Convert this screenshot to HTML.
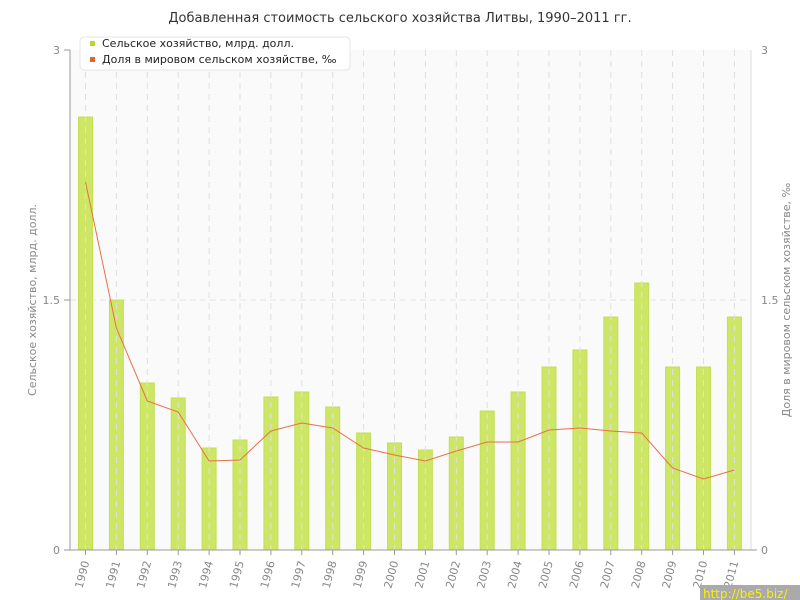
<!DOCTYPE html>
<html><head><meta charset="utf-8"><style>
body{margin:0;background:#fff;}
svg{display:block;font-family:"DejaVu Sans","Liberation Sans",sans-serif;}
</style></head><body>
<svg width="800" height="600" xmlns="http://www.w3.org/2000/svg">
<rect width="800" height="600" fill="#fff"/>
<text x="400" y="22" text-anchor="middle" font-size="13" fill="#333">Добавленная стоимость сельского хозяйства Литвы, 1990–2011 гг.</text>
<rect x="70" y="50" width="681" height="500" fill="#fafafa"/>
<line x1="751" y1="50" x2="751" y2="550" stroke="#ddd"/>
<line x1="70" y1="300" x2="751" y2="300" stroke="#e4e4e4" stroke-dasharray="6,4"/>
<g id="bars" fill="#cde666" stroke="#c4df55"></g>
<g id="grid" stroke="#e0e0e0" stroke-dasharray="6,5"></g>
<polyline id="line" fill="none" stroke="#e8704a" stroke-width="1"/>
<line x1="70" y1="50" x2="70" y2="550" stroke="#999"/>
<line x1="64" y1="550" x2="757" y2="550" stroke="#999"/>
<line x1="64" y1="50" x2="70" y2="50" stroke="#999"/>
<line x1="64" y1="300" x2="70" y2="300" stroke="#999"/>
<g font-size="11" fill="#888">
<text x="60" y="54" text-anchor="end">3</text>
<text x="60" y="304" text-anchor="end">1.5</text>
<text x="60" y="554" text-anchor="end">0</text>
<text x="761" y="54">3</text>
<text x="761" y="304">1.5</text>
<text x="761" y="554">0</text>
</g>
<g id="xl" font-size="11" fill="#888"></g>
<text transform="translate(36,300) rotate(-90)" text-anchor="middle" font-size="11" fill="#888">Сельское хозяйство, млрд. долл.</text>
<text transform="translate(790,300) rotate(-90)" text-anchor="middle" font-size="11" fill="#888">Доля в мировом сельском хозяйстве, ‰</text>
<rect x="80" y="37" width="270" height="33" rx="4" fill="#fff" stroke="#e4e4e4"/>
<rect x="90" y="41" width="5" height="5" fill="#b5d92d"/>
<rect x="90" y="57" width="5" height="5" fill="#e8632c"/>
<text x="102" y="47" font-size="11" fill="#222">Сельское хозяйство, млрд. долл.</text>
<text x="102" y="63" font-size="11" fill="#222">Доля в мировом сельском хозяйстве, ‰</text>
<rect x="700" y="585" width="100" height="15" fill="#aaa"/>
<text x="703" y="598" font-size="12" fill="#ffee00">http://be5.biz/</text>
<script>
var tops=[117,300,383,398,448,440,397,392,407,433,443,450,437,411,392,367,350,317,283,367,367,317];
var ly=[182,328,401,412,461,460,431,423,428,448,455,461,451,442,442,430,428,431,433,468,479,470];
var ns="http://www.w3.org/2000/svg",b=document.getElementById('bars'),g=document.getElementById('grid'),xl=document.getElementById('xl'),pts=[];
for(var i=0;i<22;i++){var x=85.5+i*30.9;
var r=document.createElementNS(ns,'rect');r.setAttribute('x',x-7);r.setAttribute('y',tops[i]);r.setAttribute('width',14);r.setAttribute('height',550-tops[i]);b.appendChild(r);
var l=document.createElementNS(ns,'line');l.setAttribute('x1',x);l.setAttribute('x2',x);l.setAttribute('y1',50);l.setAttribute('y2',550);g.appendChild(l);
var t=document.createElementNS(ns,'line');t.setAttribute('x1',x);t.setAttribute('x2',x);t.setAttribute('y1',550);t.setAttribute('y2',555);t.setAttribute('stroke','#999');xl.appendChild(t);
var tx=document.createElementNS(ns,'text');tx.setAttribute('transform','translate('+(x+4)+',562) rotate(-75)');tx.setAttribute('text-anchor','end');tx.textContent=1990+i;xl.appendChild(tx);
pts.push(x+','+ly[i]);}
document.getElementById('line').setAttribute('points',pts.join(' '));
</script>
</svg>
</body></html>
